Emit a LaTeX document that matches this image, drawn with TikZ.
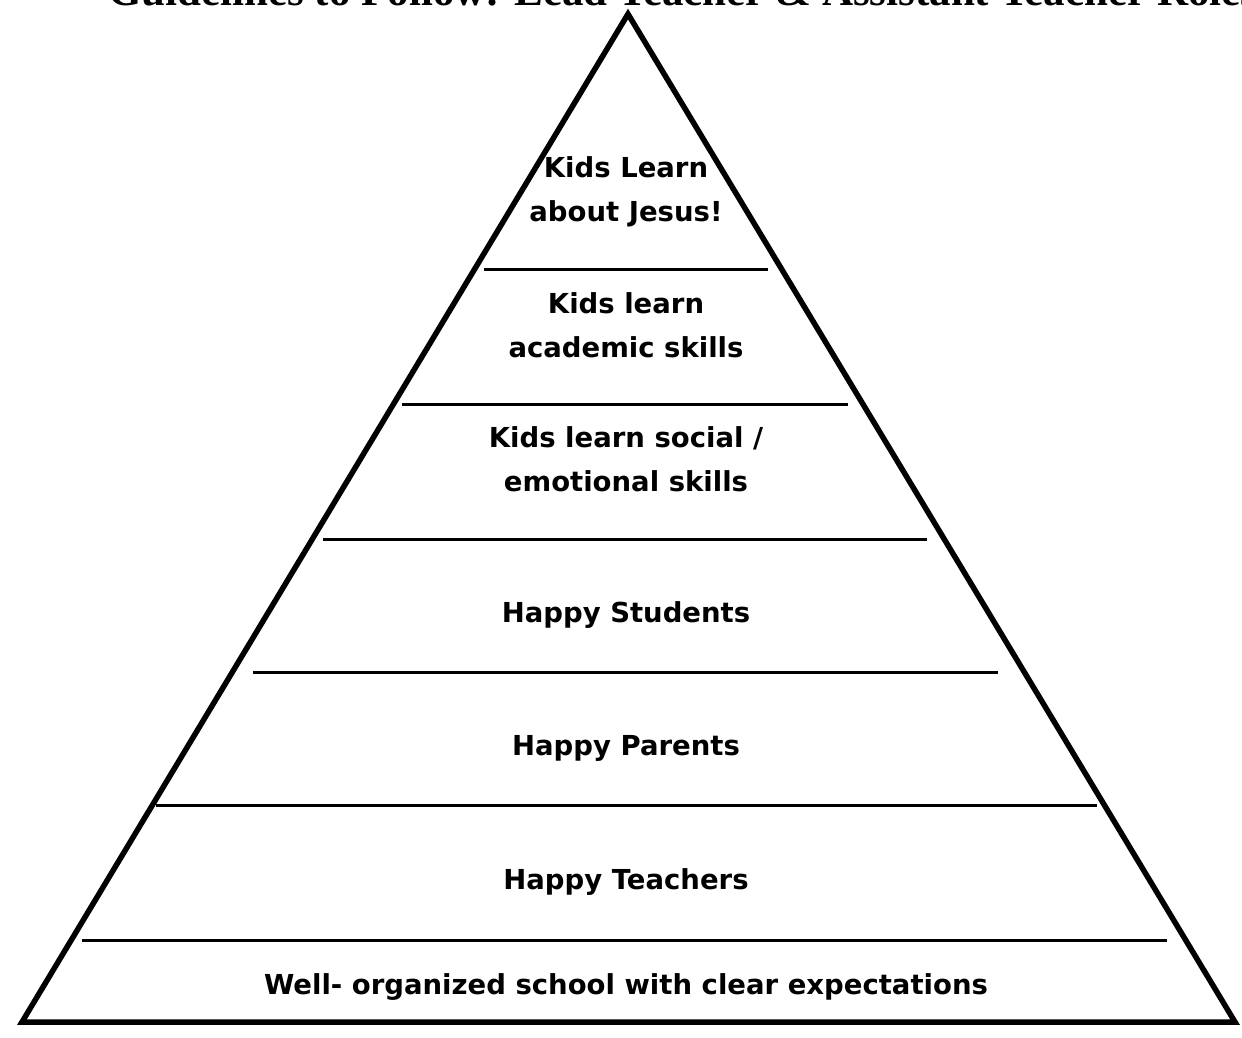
\documentclass[tikz,border=0pt]{standalone}
\usepackage{fontspec}
\setmainfont{DejaVu Sans}
\newfontfamily\titlefont{Liberation Serif}
\begin{document}
\begin{tikzpicture}[x=1pt,y=-1pt,
  tier/.style={font=\fontsize{27.5}{44}\selectfont\bfseries, align=center, inner sep=0pt},
  divider/.style={line width=3pt},
  outline/.style={line width=5.5pt, line join=miter, miter limit=20}]
\useasboundingbox (0,0) rectangle (1242,1038);
% heading, mostly above the page edge
\node[anchor=base west, inner sep=0pt, font=\titlefont\fontsize{43}{45}\selectfont\bfseries] (title) at (108,6) {Guidelines to Follow: Lead Teacher \& Assistant Teacher Roles};
% pyramid outline
\coordinate (apex) at (628,14);
\coordinate (bl) at (22,1022);
\coordinate (br) at (1235,1022);
\draw[outline] (apex) -- (br) -- (bl) -- cycle;
% tier dividers
\coordinate (d1l) at (484,269); \coordinate (d1r) at (768,269);
\coordinate (d2l) at (402,404); \coordinate (d2r) at (848,404);
\coordinate (d3l) at (323,539); \coordinate (d3r) at (927,539);
\coordinate (d4l) at (253,672); \coordinate (d4r) at (998,672);
\coordinate (d5l) at (156,805); \coordinate (d5r) at (1097,805);
\coordinate (d6l) at (82,940);  \coordinate (d6r) at (1167,940);
\foreach \i in {1,...,6} \draw[divider] (d\i l) -- (d\i r);
% tier labels
\node[tier] (t1) at (626,192) {Kids Learn\\about Jesus!};
\node[tier] (t2) at (626,325) {Kids learn\\academic skills};
\node[tier] (t3) at (626,459) {Kids learn social /\\emotional skills};
\node[tier] (t4) at (626,615) {Happy Students};
\node[tier] (t5) at (626,748) {Happy Parents};
\node[tier] (t6) at (626,882) {Happy Teachers};
\node[tier] (t7) at (626,987) {Well- organized school with clear expectations};
\end{tikzpicture}
\end{document}
